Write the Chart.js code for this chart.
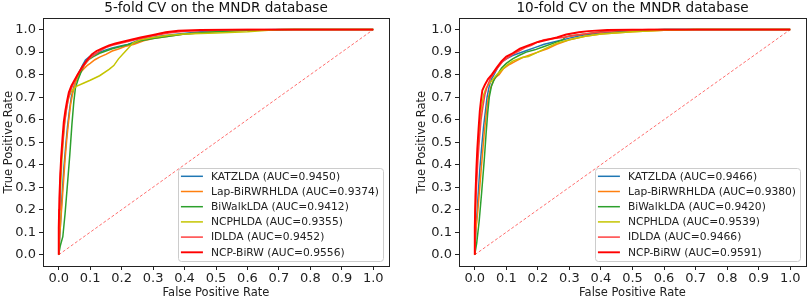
<!DOCTYPE html>
<html>
<head>
<meta charset="utf-8">
<script src="https://cdn.jsdelivr.net/npm/chart.js@4.4.0/dist/chart.umd.min.js"></script>
<style>
  body { margin: 0; background: #fff; }
  #wrap { position: relative; width: 809px; height: 300px; }
  canvas { position: absolute; top: 0; }
</style>
</head>
<body>
<div id="wrap">
  <canvas id="chart5" width="400" height="300" style="left:0px"></canvas>
  <canvas id="chart10" width="396" height="300" style="left:413px"></canvas>
</div>
<script>
const methods = ['KATZLDA', 'Lap-BiRWRHLDA', 'BiWalkLDA', 'NCPHLDA', 'IDLDA', 'NCP-BiRW'];
const auc5 = ['0.9450', '0.9374', '0.9412', '0.9355', '0.9452', '0.9556'];
const auc10 = ['0.9466', '0.9380', '0.9420', '0.9539', '0.9466', '0.9591'];
const tickValues = [0, 0.1, 0.2, 0.3, 0.4, 0.5, 0.6, 0.7, 0.8, 0.9, 1.0];
const chanceLine = [[0, 0], [1, 1]];

// 5-fold curves, [FPR, TPR]
const katz5 = [[0,0],[0.004,0.1],[0.01,0.25],[0.016,0.38],[0.022,0.48],[0.028,0.57],[0.034,0.64],[0.04,0.7],[0.048,0.745],[0.056,0.78],[0.065,0.81],[0.075,0.84],[0.085,0.865],[0.098,0.88],[0.11,0.888],[0.13,0.9],[0.15,0.91],[0.17,0.918],[0.2,0.928],[0.22,0.934],[0.25,0.95],[0.28,0.96],[0.32,0.97],[0.38,0.98],[0.45,0.99],[0.55,0.997],[0.7,1],[1,1]];
const lap5 = [[0,0],[0.003,0.08],[0.008,0.18],[0.014,0.3],[0.02,0.42],[0.026,0.52],[0.032,0.6],[0.038,0.67],[0.045,0.72],[0.052,0.76],[0.06,0.79],[0.07,0.81],[0.08,0.826],[0.09,0.84],[0.1,0.85],[0.115,0.866],[0.13,0.878],[0.15,0.89],[0.17,0.905],[0.19,0.914],[0.21,0.925],[0.24,0.935],[0.27,0.95],[0.3,0.96],[0.35,0.97],[0.4,0.98],[0.5,0.99],[0.6,0.997],[0.75,1],[1,1]];
const biwalk5 = [[0,0],[0.005,0.04],[0.013,0.08],[0.02,0.18],[0.027,0.3],[0.035,0.44],[0.042,0.58],[0.048,0.68],[0.053,0.74],[0.062,0.78],[0.072,0.815],[0.082,0.845],[0.095,0.866],[0.11,0.88],[0.13,0.895],[0.15,0.905],[0.17,0.915],[0.2,0.926],[0.23,0.937],[0.26,0.95],[0.3,0.96],[0.35,0.97],[0.4,0.98],[0.5,0.99],[0.6,0.997],[0.75,1],[1,1]];
const ncph5 = [[0,0],[0.002,0.15],[0.006,0.3],[0.01,0.42],[0.015,0.52],[0.02,0.6],[0.026,0.66],[0.032,0.7],[0.04,0.725],[0.05,0.74],[0.056,0.748],[0.08,0.763],[0.1,0.775],[0.13,0.795],[0.16,0.823],[0.175,0.84],[0.19,0.87],[0.21,0.9],[0.236,0.94],[0.26,0.955],[0.3,0.965],[0.35,0.975],[0.4,0.98],[0.5,0.985],[0.6,0.99],[0.7,1],[1,1]];
const idlda5 = [[0,0],[0.001,0.2],[0.004,0.32],[0.008,0.42],[0.013,0.5],[0.018,0.58],[0.024,0.64],[0.03,0.69],[0.038,0.73],[0.048,0.765],[0.06,0.8],[0.073,0.825],[0.088,0.855],[0.1,0.875],[0.115,0.89],[0.13,0.905],[0.15,0.92],[0.17,0.93],[0.2,0.94],[0.23,0.95],[0.26,0.96],[0.3,0.972],[0.35,0.985],[0.4,0.993],[0.5,0.998],[0.6,1],[1,1]];
const ncpbirw5 = [[0,0],[0,0.12],[0.002,0.25],[0.005,0.36],[0.008,0.44],[0.012,0.52],[0.016,0.59],[0.021,0.64],[0.026,0.68],[0.032,0.72],[0.04,0.75],[0.05,0.775],[0.062,0.805],[0.075,0.835],[0.09,0.865],[0.105,0.89],[0.12,0.905],[0.14,0.918],[0.16,0.93],[0.18,0.938],[0.2,0.945],[0.23,0.955],[0.26,0.965],[0.3,0.976],[0.34,0.988],[0.38,0.995],[0.45,0.998],[0.55,1],[1,1]];

// 10-fold curves, [FPR, TPR]
const katz10 = [[0,0],[0.004,0.12],[0.01,0.25],[0.016,0.38],[0.022,0.48],[0.028,0.57],[0.034,0.64],[0.039,0.7],[0.046,0.75],[0.053,0.78],[0.061,0.8],[0.072,0.83],[0.085,0.855],[0.1,0.87],[0.12,0.885],[0.14,0.895],[0.16,0.905],[0.19,0.92],[0.22,0.935],[0.25,0.945],[0.28,0.955],[0.3,0.962],[0.34,0.975],[0.4,0.985],[0.5,0.995],[0.6,1],[1,1]];
const lap10 = [[0,0],[0.003,0.1],[0.01,0.2],[0.017,0.32],[0.024,0.44],[0.03,0.54],[0.036,0.62],[0.042,0.69],[0.05,0.74],[0.058,0.77],[0.068,0.79],[0.077,0.8],[0.09,0.825],[0.11,0.845],[0.13,0.86],[0.15,0.875],[0.17,0.885],[0.2,0.9],[0.23,0.915],[0.26,0.935],[0.3,0.955],[0.35,0.97],[0.4,0.98],[0.5,0.99],[0.6,0.997],[0.7,1],[1,1]];
const biwalk10 = [[0,0],[0.006,0.05],[0.014,0.15],[0.022,0.28],[0.03,0.42],[0.036,0.54],[0.041,0.63],[0.046,0.7],[0.053,0.75],[0.062,0.78],[0.072,0.8],[0.085,0.83],[0.1,0.85],[0.12,0.87],[0.14,0.885],[0.163,0.9],[0.19,0.91],[0.22,0.925],[0.25,0.94],[0.28,0.955],[0.285,0.965],[0.3,0.972],[0.35,0.98],[0.4,0.99],[0.5,0.997],[0.6,1],[1,1]];
const ncph10 = [[0,0],[0.001,0.15],[0.004,0.3],[0.008,0.42],[0.012,0.52],[0.017,0.6],[0.022,0.66],[0.028,0.71],[0.036,0.74],[0.046,0.76],[0.058,0.78],[0.07,0.8],[0.085,0.82],[0.1,0.84],[0.12,0.86],[0.15,0.876],[0.17,0.88],[0.2,0.9],[0.23,0.92],[0.26,0.94],[0.3,0.955],[0.35,0.97],[0.4,0.98],[0.5,0.99],[0.6,0.997],[0.7,1],[1,1]];
const idlda10 = [[0,0],[0.002,0.2],[0.006,0.32],[0.01,0.42],[0.015,0.52],[0.02,0.6],[0.026,0.66],[0.032,0.71],[0.04,0.75],[0.05,0.785],[0.062,0.81],[0.075,0.835],[0.09,0.86],[0.105,0.875],[0.12,0.89],[0.14,0.905],[0.16,0.92],[0.18,0.93],[0.2,0.945],[0.22,0.955],[0.25,0.96],[0.28,0.965],[0.32,0.975],[0.37,0.985],[0.45,0.995],[0.55,1],[1,1]];
const ncpbirw10 = [[0,0],[0,0.12],[0.002,0.26],[0.005,0.38],[0.008,0.47],[0.012,0.56],[0.016,0.64],[0.02,0.69],[0.024,0.73],[0.032,0.755],[0.042,0.78],[0.054,0.8],[0.069,0.83],[0.085,0.86],[0.1,0.88],[0.12,0.895],[0.143,0.915],[0.17,0.93],[0.2,0.945],[0.23,0.955],[0.26,0.965],[0.29,0.978],[0.33,0.988],[0.36,0.993],[0.42,0.998],[0.5,1],[1,1]];

const colors = ['#1f77b4', '#ff7f0e', '#2ca02c', '#c4c400', '#ff4040', '#ff0000'];
const widths = [1.5, 1.5, 1.5, 1.5, 1.5, 1.9];
const FONT = '"DejaVu Sans", sans-serif';

// matplotlib style box around the plot area
const boxPlugin = {
    id: 'box',
    afterDatasetsDraw(chart) {
        const a = chart.chartArea;
        const ctx = chart.ctx;
        ctx.save();
        ctx.strokeStyle = '#222';
        ctx.lineWidth = 1;
        ctx.strokeRect(Math.round(a.left) + 0.5, Math.round(a.top) + 0.5,
            Math.round(a.right - a.left), Math.round(a.bottom - a.top));
        ctx.restore();
    }
};

// legend in the lower right corner inside the axes
const innerLegend = {
    id: 'innerLegend',
    afterDraw(chart) {
        const a = chart.chartArea;
        const ctx = chart.ctx;
        const items = chart.data.datasets.filter(d => d.inLegend);
        ctx.save();
        ctx.font = '10.7px ' + FONT;
        const maxW = Math.max(...items.map(d => ctx.measureText(d.label).width));
        const rowH = 15.2;
        const w = 33 + maxW + 4;
        const h = items.length * rowH + 2;
        const x = a.right - 6 - w;
        const y = a.bottom - 5 - h;
        ctx.beginPath();
        ctx.roundRect(Math.round(x) + 0.5, Math.round(y) + 0.5, Math.round(w), Math.round(h), 3);
        ctx.fillStyle = 'rgba(255,255,255,0.85)';
        ctx.fill();
        ctx.strokeStyle = '#cccccc';
        ctx.lineWidth = 1;
        ctx.stroke();
        items.forEach((d, i) => {
            const cy = y + 8.5 + i * rowH;
            ctx.beginPath();
            ctx.moveTo(x + 3, cy);
            ctx.lineTo(x + 25, cy);
            ctx.strokeStyle = d.borderColor;
            ctx.lineWidth = d.borderWidth;
            ctx.stroke();
            ctx.fillStyle = '#222';
            ctx.textBaseline = 'middle';
            ctx.fillText(d.label, x + 33, cy + 0.5);
        });
        ctx.restore();
    }
};

function makeChart(id, title, curves, aucs, yWidth, padRight) {
    const datasets = curves.map((c, i) => ({
        label: `${methods[i]} (AUC=${aucs[i]})`,
        data: c.map(p => ({x: p[0], y: p[1]})),
        borderColor: colors[i],
        borderWidth: widths[i],
        showLine: true,
        pointRadius: 0,
        fill: false,
        order: curves.length - i,
        inLegend: true
    }));
    datasets.push({
        label: 'chance',
        data: chanceLine.map(p => ({x: p[0], y: p[1]})),
        borderColor: '#ff6e6e',
        borderWidth: 1,
        borderDash: [3, 2],
        showLine: true,
        pointRadius: 0,
        order: 99,
        inLegend: false
    });

    const tickFont = {family: FONT, size: 13};
    const axisTicks = scale => { scale.ticks = tickValues.map(v => ({value: v})); };

    return new Chart(document.getElementById(id), {
        type: 'scatter',
        data: {datasets: datasets},
        options: {
            responsive: false,
            animation: false,
            layout: {padding: {left: 0, right: padRight, top: 0, bottom: 0}},
            plugins: {
                legend: {display: false},
                tooltip: {enabled: false},
                title: {
                    display: true,
                    fullSize: false,
                    text: title,
                    color: '#111',
                    font: {family: FONT, size: 13.6, weight: 'normal', lineHeight: 1.2},
                    padding: {top: 0.5, bottom: 1.5}
                }
            },
            scales: {
                x: {
                    type: 'linear',
                    min: -0.05,
                    max: 1.05,
                    afterBuildTicks: axisTicks,
                    afterFit: s => { s.height = 34; },
                    grid: {drawOnChartArea: false, drawTicks: true, tickLength: 4, color: '#222'},
                    border: {display: false},
                    ticks: {font: tickFont, color: '#222', padding: 1, maxRotation: 0,
                        autoSkip: false, callback: v => v.toFixed(1)},
                    title: {display: true, text: 'False Positive Rate', color: '#222',
                        font: {family: FONT, size: 11.5, lineHeight: 1.2}, padding: 0}
                },
                y: {
                    type: 'linear',
                    min: -0.05,
                    max: 1.05,
                    afterBuildTicks: axisTicks,
                    afterFit: s => { s.width = yWidth; },
                    grid: {drawOnChartArea: false, drawTicks: true, tickLength: 4, color: '#222'},
                    border: {display: false},
                    ticks: {font: tickFont, color: '#222', padding: 3,
                        autoSkip: false, callback: v => v.toFixed(1)},
                    title: {display: true, text: 'True Positive Rate', color: '#222',
                        font: {family: FONT, size: 11.5, lineHeight: 1.2}, padding: 2}
                }
            }
        },
        plugins: [boxPlugin, innerLegend]
    });
}

document.addEventListener('DOMContentLoaded', function() {
    makeChart('chart5', '5-fold CV on the MNDR database',
        [katz5, lap5, biwalk5, ncph5, idlda5, ncpbirw5], auc5, 43, 11);
    makeChart('chart10', '10-fold CV on the MNDR database',
        [katz10, lap10, biwalk10, ncph10, idlda10, ncpbirw10], auc10, 46, 3);
});
</script>
</body>
</html>
